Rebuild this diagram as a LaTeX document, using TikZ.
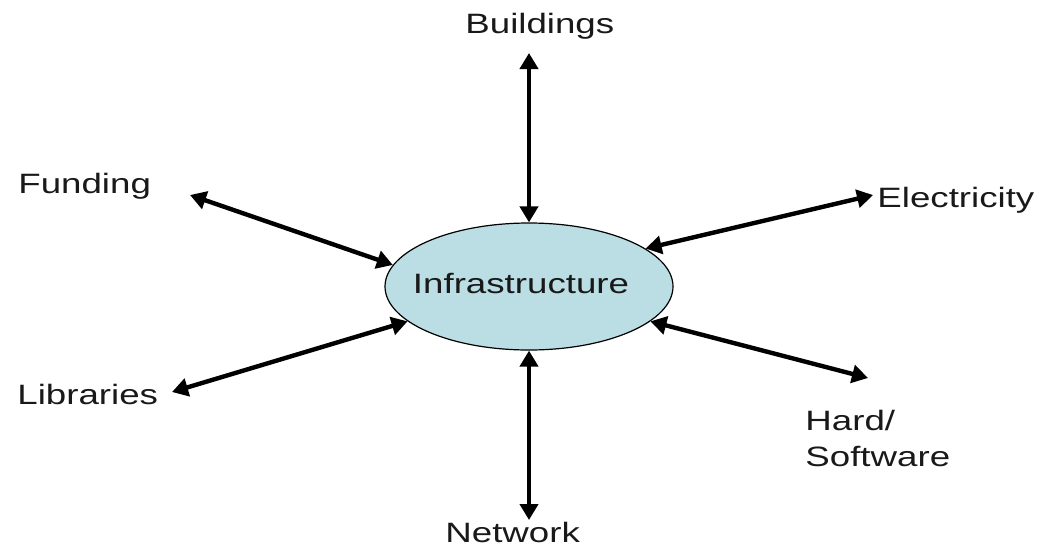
\documentclass[tikz,border=0pt]{standalone}
\usepackage{fontspec}
\setmainfont{Liberation Sans}[FakeStretch=1.31]
\usetikzlibrary{arrows.meta,shapes.geometric}
\definecolor{mylightcyan}{RGB}{186,222,227}
\definecolor{mydarkgray}{RGB}{25,25,25}

\begin{document}
\begin{tikzpicture}[x=0.5pt,y=-0.5pt,
    link/.style={line width=2.2pt,{Triangle[length=8pt,width=9pt]}-{Triangle[length=8pt,width=9pt]}},
    word/.style={inner sep=0pt,anchor=base west,text=mydarkgray,font=\fontsize{14}{18}\selectfont}]
  \useasboundingbox (0,0) rectangle (1043,547);
  \node[ellipse,draw,line width=0.6pt,fill=mylightcyan,inner sep=0pt,
        minimum width=144pt,minimum height=63.5pt] (infra) at (529,286.5) {};
  \node[word,anchor=base] (infratext) at (521,293) {Infrastructure};
  % labels
  \node[word] (build) at (465,33)  {Buildings};
  \node[word] (fund)  at (18,193)  {Funding};
  \node[word] (elec)  at (877,207) {Electricity};
  \node[word] (libr)  at (17,404)  {Libraries};
  \node[word,anchor=north west,align=left] (hardsw) at (805,410) {Hard/\\Software};
  \node[word] (netw)  at (445,542) {Network};
  % free ends of the arrows
  \coordinate (buildend) at (529,53);
  \coordinate (fundend)  at (190,195);
  \coordinate (elecend)  at (873,195);
  \coordinate (librend)  at (172,392);
  \coordinate (hardend)  at (868,378);
  \coordinate (netwend)  at (529,520);
  \draw[link] (buildend) -- (infra.90);
  \draw[link] (fundend)  -- (infra.171);
  \draw[link] (elecend)  -- (infra.18);
  \draw[link] (librend)  -- (infra.196);
  \draw[link] (hardend)  -- (infra.344);
  \draw[link] (netwend)  -- (infra.270);
\end{tikzpicture}
\end{document}
